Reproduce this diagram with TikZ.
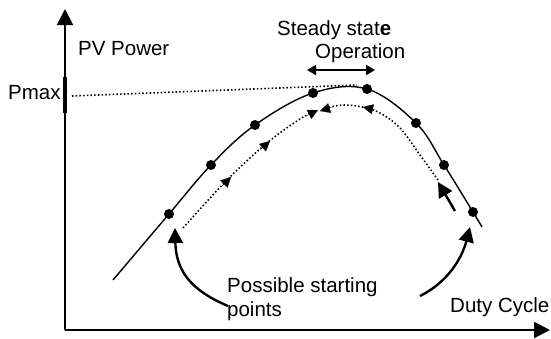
\documentclass[tikz,border=0pt]{standalone}
\usepackage{fontspec}
\setmainfont{Liberation Sans}
\usetikzlibrary{arrows.meta}
\begin{document}
\begin{tikzpicture}[x=1pt,y=-1pt,
  lbl/.style={anchor=base west,inner sep=0pt,font=\fontsize{20.5}{24}\selectfont},
  axis/.style={line width=2pt,-{Triangle[length=16pt,width=16pt]}},
  curve/.style={line width=1.4pt},
  dotpath/.style={line width=1.6pt,dash pattern=on 1.5pt off 2.2pt},
  ptdot/.style={circle,fill=black,inner sep=0pt,minimum size=10pt},
  bigarrow/.style={line width=2.4pt,-{Triangle[length=15pt,width=15pt]}},
  smallhead/.style={line width=0.1pt,-{Triangle[length=10pt,width=10pt]}}]
\useasboundingbox (0,0) rectangle (551,338);
% axes
\coordinate (O) at (65,330);
\coordinate (ytop) at (65,9);
\coordinate (xend) at (550,330);
\draw[axis] (O) -- (ytop);
\draw[axis] (O) -- (xend);
\coordinate (tk1) at (65,77);
\coordinate (tk2) at (65,113);
\draw[line width=4.5pt] (tk1) -- (tk2);
% texts
\node[lbl] (pv) at (78,55) {PV Power};
\node[lbl] (pmax) at (8,99) {Pmax};
\node[lbl] (ss) at (277,35) {Steady stat\textbf{e}};
\node[lbl] (op) at (315,58) {Operation};
\node[lbl] (ps) at (227,292) {Possible starting};
\node[lbl] (pts) at (227,316) {points};
\node[lbl] (dc) at (450,312) {Duty Cycle};
% Pmax dotted line
\coordinate (pm1) at (72,96);
\coordinate (pm2) at (357,85);
\draw[dotpath] (pm1) -- (pm2);
% main curve
\draw[curve] plot[smooth,tension=0.6] coordinates {(113,280) (169,214) (211,165) (255,125) (313,93) (367,89) (416,123) (444,165) (473,212) (482,227)};
\node[ptdot] (d1) at (169,214) {};
\node[ptdot] (d2) at (211,165) {};
\node[ptdot] (d3) at (255,125) {};
\node[ptdot] (d4) at (313,93) {};
\node[ptdot] (d5) at (367,89) {};
\node[ptdot] (d6) at (416,123) {};
\node[ptdot] (d7) at (444,165) {};
\node[ptdot] (d8) at (473,212) {};
% dotted tracking paths
\draw[dotpath] plot[smooth,tension=0.6] coordinates {(183,228) (227,180) (267,143) (300,119) (318,110)};
\draw[dotpath] plot[smooth,tension=0.6] coordinates {(438,180) (420,155) (400,128) (380,113) (362,107) (345,105) (330,107) (322,110)};
\coordinate (a1s) at (221,187);
\coordinate (a1e) at (231,177);
\draw[smallhead] (a1s) -- (a1e);
\coordinate (a2s) at (260,150);
\coordinate (a2e) at (270,141);
\draw[smallhead] (a2s) -- (a2e);
\coordinate (a3s) at (306,116);
\coordinate (a3e) at (318,110);
\draw[smallhead] (a3s) -- (a3e);
\coordinate (a4s) at (333,107);
\coordinate (a4e) at (320,111);
\draw[smallhead] (a4s) -- (a4e);
\coordinate (a5s) at (376,110);
\coordinate (a5e) at (363,107);
\draw[smallhead] (a5s) -- (a5e);
% steady state double arrow
\coordinate (s1) at (307,70);
\coordinate (s2) at (375,70);
\draw[line width=2pt,{Triangle[length=9pt,width=10pt]}-{Triangle[length=9pt,width=10pt]}] (s1) -- (s2);
% big arrows
\coordinate (b1s) at (228,306);
\coordinate (b1e) at (175,228);
\draw[bigarrow] (b1s) .. controls (190,290) and (176,270) .. (b1e);
\coordinate (b2s) at (420,296);
\coordinate (b2e) at (470,227);
\draw[bigarrow] (b2s) .. controls (448,282) and (462,258) .. (b2e);
\coordinate (b3s) at (455,211);
\coordinate (b3e) at (438,182);
\draw[bigarrow] (b3s) -- (b3e);
\end{tikzpicture}
\end{document}
